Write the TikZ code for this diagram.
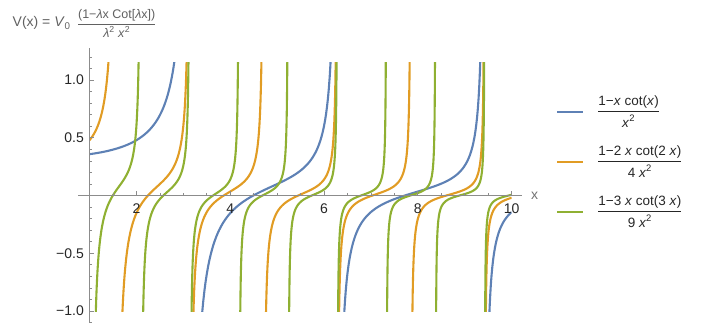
\documentclass[tikz,border=0pt]{standalone}
\usepackage{amsmath}
\usepackage{fontspec}
\setmainfont{Liberation Sans}
\begin{document}
\begin{tikzpicture}[x=1pt,y=1pt,
        declare function={
            vpot(\u)=(1-\u*cot(deg(\u)))/(\u*\u);
            vcorte(\u)=max(-1.1,min(1.3,vpot(\u)));
        },
        curva/.style={line width=2.1pt,line join=round},
        eje/.style={ejes,line width=0.7pt},
        marca/.style={font=\fontsize{14}{16}\selectfont,inner sep=0pt,text=black!85},
        leyenda/.style={font=\fontsize{13.5}{16}\selectfont,inner sep=0pt,text=black!85},
        titulo/.style={font=\fontsize{14}{16}\selectfont,inner sep=0pt,text=black!62}]
        %colores
        \definecolor{azul}{RGB}{94,129,181}
        \definecolor{naranja}{RGB}{225,156,36}
        \definecolor{verde}{RGB}{143,176,50}
        \colorlet{ejes}{black!45}

        \useasboundingbox (0,0) rectangle (711,322);

        % Titulo
        \node[titulo,anchor=base west] (titulo) at (12.5,295)
            {V(x) = \textit{V}\textsubscript{0}\, {\fontsize{12.5}{14}\selectfont$\genfrac{}{}{0.8pt}{0}{\text{(1−\textit{λ}x Cot[\textit{λ}x])}}{\text{\textit{λ}\textsuperscript{2} \textit{x}\textsuperscript{2}}}$}};

        \begin{scope}[shift={(42.6pt,126.5pt)},x=46.9pt,y=115.5pt]
            % Curvas
            \begin{scope}
                \clip (1,-1) rectangle (10,1.15);
                \foreach \lam/\col/\kmax in {1/azul/3, 2/naranja/6, 3/verde/9}
                \foreach \k in {0,...,\kmax}{
                    \pgfmathsetmacro\xa{max(1,(\k*pi+0.01)/\lam)}
                    \pgfmathsetmacro\xb{min(10,((\k+1)*pi-0.01)/\lam)}
                    \draw[curva,\col] plot[variable=\t,domain=0:180,samples=121]
                        ({\xa+(\xb-\xa)*(1-cos(\t))/2},{vcorte(\lam*(\xa+(\xb-\xa)*(1-cos(\t))/2))});
                }
            \end{scope}

            %Ejes y numeracion
            \draw[eje] (0.755,0) -- (10.22,0) coordinate (xfin);
            \draw[eje] (1,-1.1) -- (1,1.28) coordinate (yfin);
            \node[marca,text=black!55,anchor=west] (xlbl) at ([xshift=9pt]xfin) {x};
            \foreach \x in {1.5,2,...,10}
            \draw[eje] (\x,0) -- ++(0,2.5pt);
            \foreach \x in {2,4,...,10}{
                \draw[eje] (\x,0) -- ++(0,4.5pt);
                \node[marca,anchor=north] (xt\x) at ([yshift=-8.5pt]\x,0) {\x};
            }
            \foreach \i in {-11,...,12}
            \draw[eje] (1,{\i/10}) -- ++(2.5pt,0);
            \foreach \y/\ytext/\yn in {-1/−1.0/a, -0.5/−0.5/b, 0.5/0.5/c, 1/1.0/d}{
                \draw[eje] (1,\y) -- ++(4.5pt,0);
                \node[marca,anchor=east] (yt\yn) at ([xshift=-5.5pt]1,\y) {\ytext};
            }
        \end{scope}

        % Leyenda
        \coordinate (m1) at (557,210);
        \coordinate (m2) at (557,160);
        \coordinate (m3) at (557,110);
        \draw[curva,azul] (m1) -- ++(26,0);
        \draw[curva,naranja] (m2) -- ++(26,0);
        \draw[curva,verde] (m3) -- ++(26,0);
        \node[leyenda,anchor=base west] (ley1) at ([xshift=40,yshift=-3.4]m1)
            {$\genfrac{}{}{1pt}{0}{\text{1−\textit{x} cot(\textit{x})}}{\text{\textit{x}\textsuperscript{2}}}$};
        \node[leyenda,anchor=base west] (ley2) at ([xshift=40,yshift=-3.4]m2)
            {$\genfrac{}{}{1pt}{0}{\text{1−2 \textit{x} cot(2 \textit{x})}}{\text{4 \textit{x}\textsuperscript{2}}}$};
        \node[leyenda,anchor=base west] (ley3) at ([xshift=40,yshift=-3.4]m3)
            {$\genfrac{}{}{1pt}{0}{\text{1−3 \textit{x} cot(3 \textit{x})}}{\text{9 \textit{x}\textsuperscript{2}}}$};
    \end{tikzpicture}
\end{document}
